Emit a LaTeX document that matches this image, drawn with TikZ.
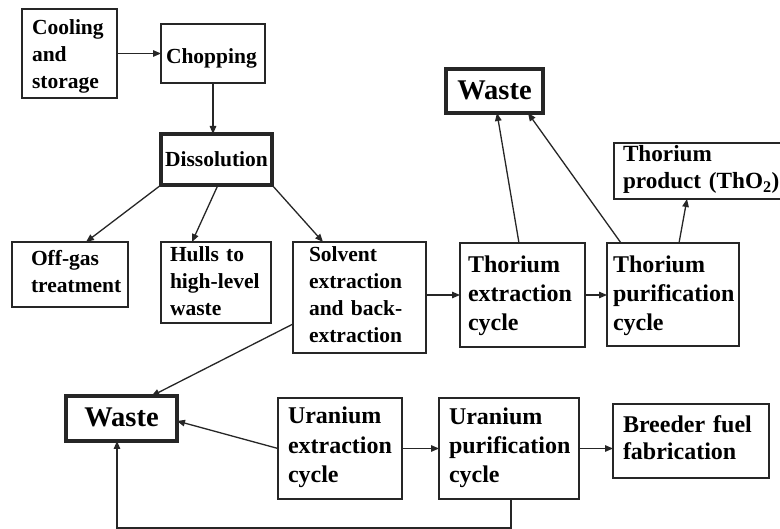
\documentclass[tikz,border=0pt]{standalone}
\usepackage{fontspec}
\setmainfont{Liberation Serif}
\usetikzlibrary{arrows.meta}
\begin{document}
\begin{tikzpicture}[x=1pt,y=-1pt,
  box/.style={draw=black!85, line width=1.5pt, anchor=north west, inner ysep=0pt, outer sep=0pt, align=left, text=black},
  heavybox/.style={box, line width=3.2pt, align=center},
  txtsmall/.style={font=\fontsize{21.5}{27}\selectfont\bfseries},
  txtlarge/.style={font=\fontsize{24}{29}\selectfont\bfseries},
  txtwaste/.style={font=\fontsize{28.5}{34}\selectfont\bfseries},
  flow/.style={draw=black!85, line width=1.3pt, -{Triangle[length=8pt,width=6.5pt]}},
]
\clip (0,0) rectangle (780,529);
\fill[white] (0,0) rectangle (780,529);

% head end of the process
\node[box, txtsmall, inner xsep=10pt, text width=75pt, text height=26pt, text depth=63pt] (cool) at (22,9) {Cooling\\and\\storage};
\node[box, txtsmall, inner xsep=5pt, text width=94pt, text height=40pt, text depth=19pt] (chop) at (161,24) {Chopping};
\node[heavybox, txtsmall, inner xsep=3pt, text width=105pt, text height=33pt, text depth=18pt] (diss) at (161,134) {Dissolution};

% products of dissolution
\node[box, txtsmall, inner xsep=19pt, text width=78pt, text height=24pt, text depth=41pt] (offgas) at (12,242) {Off-gas\\treatment};
\node[box, txtsmall, inner xsep=9pt, text width=92pt, text height=20pt, text depth=61pt] (hulls) at (161,242) {Hulls to\\high-level\\waste};
\node[box, txtsmall, inner xsep=16pt, text width=101pt, text height=20pt, text depth=91pt] (solvent) at (293,242) {Solvent\\extraction\\and back-\\extraction};

% thorium line
\node[box, txtlarge, inner xsep=8pt, text width=109pt, text height=30pt, text depth=74pt] (thext) at (460,243) {Thorium\\extraction\\cycle};
\node[box, txtlarge, inner xsep=6pt, text width=120pt, text height=30pt, text depth=73pt] (thpur) at (607,243) {Thorium\\purification\\cycle};
\node[box, inner xsep=9pt, text width=168pt, text height=19pt, text depth=37pt, font=\fontsize{23.2}{27}\selectfont\bfseries] (thprod) at (614,143) {Thorium\\product (ThO\textsubscript{2})};
\node[heavybox, txtwaste, inner xsep=3pt, text width=91pt, text height=31pt, text depth=13pt] (wastetop) at (446,69) {Waste};

% uranium line
\node[heavybox, txtwaste, inner xsep=3pt, text width=105pt, text height=31pt, text depth=14pt] (wastebot) at (66,396) {Waste};
\node[box, inner xsep=10pt, text width=104pt, text height=26pt, text depth=75pt, font=\fontsize{24}{29.5}\selectfont\bfseries] (uext) at (278,398) {Uranium\\extraction\\cycle};
\node[box, txtlarge, inner xsep=10pt, text width=120pt, text height=27pt, text depth=74pt] (upur) at (439,398) {Uranium\\purification\\cycle};
\node[box, inner xsep=10pt, text width=136pt, text height=29pt, text depth=45pt, font=\fontsize{24}{27}\selectfont\bfseries] (breeder) at (613,404) {Breeder fuel\\fabrication};

% connectors
\draw[flow] (cool.east) -- (cool.east -| chop.west);
\draw[flow] (chop.south) -- (chop.south |- diss.north);
\draw[flow] (diss.south west) -- ([xshift=16pt]offgas.north);
\draw[flow] ([xshift=1.5pt]diss.south) -- ([xshift=-24pt]hulls.north);
\draw[flow] (diss.south east) -- ([xshift=30pt]solvent.north west);
\draw[flow] (thext.west -| solvent.east) -- (thext.west);
\draw[flow] (thext.east) -- (thext.east -| thpur.west);
\draw[flow] ([xshift=-3.5pt]thext.north) -- ([xshift=2.5pt]wastetop.south);
\draw[flow] ([xshift=14pt]thpur.north west) -- ([xshift=-15pt]wastetop.south east);
\draw[flow] ([xshift=6pt]thpur.north) -- ([xshift=73pt]thprod.south west);
\draw[flow] ([yshift=-26.5pt]solvent.west) -- ([xshift=30pt]wastebot.north);
\draw[flow] (uext.west) -- ([yshift=-2.5pt]wastebot.east);
\draw[flow] (uext.east) -- (uext.east -| upur.west);
\draw[flow] (upur.east) -- (upur.east -| breeder.west);
\draw[flow] ([xshift=2pt]upur.south) -- ++(0,29) -| ([xshift=-4.5pt]wastebot.south);
\end{tikzpicture}
\end{document}
